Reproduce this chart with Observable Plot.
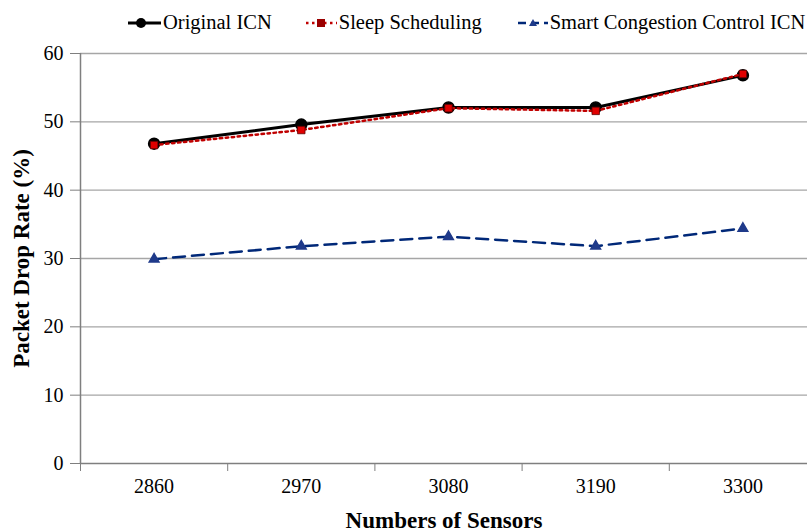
<!DOCTYPE html>
<html>
<head>
<meta charset="utf-8">
<script src="https://cdn.jsdelivr.net/npm/d3@7"></script>
<script src="https://cdn.jsdelivr.net/npm/@observablehq/plot@0.6"></script>
<style>
  html, body { margin: 0; padding: 0; background: #fff; }
  #wrap { position: relative; width: 807px; height: 531px; font-family: "Liberation Serif", "Times New Roman", serif; }
  #legend { position: absolute; left: 128px; top: 11px; display: flex; align-items: center; font-size: 20.5px; color: #000; white-space: nowrap; }
  .item { display: flex; align-items: center; }
  .item:nth-child(1) { margin-right: 32px; }
  .item:nth-child(2) { margin-right: 36px; }
  .item svg { display: block; margin-right: 2px; }
  g[aria-label="x-axis label"] text, g[aria-label="y-axis label"] text { font-weight: bold; font-size: 23px; }
</style>
</head>
<body>
<div id="wrap">
  <div id="legend"></div>
  <div id="chart"></div>
</div>
<script>
const sensors = [2860, 2970, 3080, 3190, 3300];
const originalICN = [46.8, 49.6, 52.1, 52.1, 56.8];
const sleepScheduling = [46.6, 48.8, 52.0, 51.6, 57.0];
const smartCongestion = [29.9, 31.8, 33.2, 31.8, 34.4];
const yTicks = [0, 10, 20, 30, 40, 50, 60];
const seriesNames = ["Original ICN", "Sleep Scheduling", "Smart Congestion Control ICN"];

const step = sensors[1] - sensors[0];
const xMin = sensors[0] - step / 2;
const xMax = sensors[sensors.length - 1] + step / 2;
const boundaries = sensors.map(s => s - step / 2);

const toRows = vals => sensors.map((s, i) => ({x: s, y: vals[i]}));
const orig = toRows(originalICN);
const sleep = toRows(sleepScheduling);
const smart = toRows(smartCongestion);

const chart = Plot.plot({
  width: 807,
  height: 531,
  marginTop: 53,
  marginBottom: 68,
  marginLeft: 80,
  marginRight: 0,
  style: {fontFamily: "Liberation Serif, Times New Roman, serif", fontSize: "20px", background: "#fff", color: "#000"},
  x: {type: "linear", domain: [xMin, xMax], range: [80, 816]},
  y: {domain: [0, 60]},
  marks: [
    Plot.ruleY(yTicks.filter(d => d > 0), {stroke: "#a6a6a6", strokeWidth: 1.4}),
    Plot.ruleX([xMin], {y1: 0, y2: 60, stroke: "#7f7f7f", strokeWidth: 1.5}),
    Plot.ruleY([0], {stroke: "#7f7f7f", strokeWidth: 1.5}),
    Plot.axisY({ticks: yTicks, tickSize: 10, tickPadding: 7, stroke: "#7f7f7f", fill: "#000",
      label: "Packet Drop Rate (%)", labelAnchor: "center", labelArrow: false, labelOffset: 68}),
    Plot.axisX({ticks: boundaries, tickSize: 8, tickFormat: () => "", stroke: "#7f7f7f", label: null}),
    Plot.axisX({ticks: sensors, tickSize: 0, tickPadding: 15, tickFormat: d => String(d), fill: "#000",
      label: "Numbers of Sensors", labelAnchor: "center", labelArrow: false, labelOffset: 64}),
    Plot.line(orig, {x: "x", y: "y", stroke: "#000", strokeWidth: 3}),
    Plot.dot(orig, {x: "x", y: "y", r: 5.5, fill: "#000", stroke: "#000"}),
    Plot.line(sleep, {x: "x", y: "y", stroke: "#c00000", strokeWidth: 2.5, strokeDasharray: "2.5,3.5"}),
    Plot.dot(sleep, {x: "x", y: "y", symbol: "square", r: 4.2, fill: "#e00000", stroke: "#600000", strokeWidth: 0.8}),
    Plot.line(smart, {x: "x", y: "y", stroke: "#002878", strokeWidth: 2.5, strokeDasharray: "12,7"}),
    Plot.dot(smart, {x: "x", y: "y", symbol: "triangle", r: 3.6, fill: "#1f3a8a", stroke: "#1f3a8a"})
  ]
});
document.getElementById("chart").appendChild(chart);

// legend
const swatches = [
  `<svg width="33" height="14"><line x1="0" y1="7" x2="33" y2="7" stroke="#000" stroke-width="3"/><circle cx="13" cy="7" r="5" fill="#000"/></svg>`,
  `<svg width="33" height="14"><line x1="2" y1="7" x2="33" y2="7" stroke="#c00000" stroke-width="2.5" stroke-dasharray="2.5,3.5"/><rect x="13" y="3" width="8" height="8" fill="#9a0000"/></svg>`,
  `<svg width="30" height="14"><line x1="0" y1="7" x2="30" y2="7" stroke="#002878" stroke-width="2.5" stroke-dasharray="8,5"/><path d="M15,3 L19,10 L11,10 Z" fill="#1f3a8a"/></svg>`
];
const legend = document.getElementById("legend");
seriesNames.forEach((name, i) => {
  const item = document.createElement("div");
  item.className = "item";
  item.innerHTML = swatches[i] + `<span>${name}</span>`;
  legend.appendChild(item);
});
</script>
</body>
</html>
